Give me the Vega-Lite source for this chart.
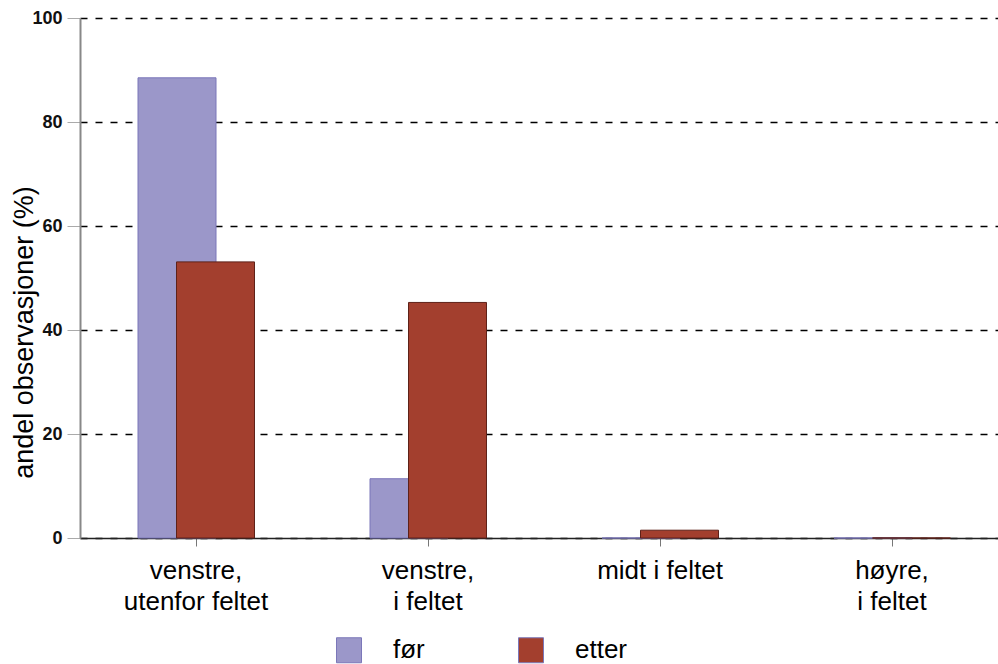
{
  "$schema": "https://vega.github.io/schema/vega-lite/v6.json",
  "autosize": {"type": "none"},
  "padding": {"left": 80, "top": 18, "right": 0, "bottom": 126},
  "width": 928,
  "height": 520,
  "background": "white",
  "config": {
    "font": "Liberation Sans",
    "view": {"stroke": null}
  },
  "data": {
    "values": [
      {"kategori": "venstre, utenfor feltet", "gruppe": "før", "andel": 88.5},
      {"kategori": "venstre, utenfor feltet", "gruppe": "etter", "andel": 53.1},
      {"kategori": "venstre, i feltet", "gruppe": "før", "andel": 11.4},
      {"kategori": "venstre, i feltet", "gruppe": "etter", "andel": 45.3},
      {"kategori": "midt i feltet", "gruppe": "før", "andel": 0},
      {"kategori": "midt i feltet", "gruppe": "etter", "andel": 1.5},
      {"kategori": "høyre, i feltet", "gruppe": "før", "andel": 0},
      {"kategori": "høyre, i feltet", "gruppe": "etter", "andel": 0}
    ]
  },
  "encoding": {
    "x": {
      "field": "kategori",
      "type": "nominal",
      "sort": ["venstre, utenfor feltet", "venstre, i feltet", "midt i feltet", "høyre, i feltet"],
      "scale": {"paddingInner": 0, "paddingOuter": 0},
      "axis": {
        "title": null,
        "labelAngle": 0,
        "labelExpr": "split(replace(datum.label, ', ', ',|'), '|')",
        "labelFontSize": 26,
        "labelColor": "#000000",
        "labelLineHeight": 31,
        "labelPadding": 11,
        "tickSize": 8,
        "tickColor": "#777777",
        "domainColor": "#222222",
        "domainWidth": 1.5,
        "grid": false
      }
    },
    "y": {
      "field": "andel",
      "type": "quantitative",
      "scale": {"domain": [0, 100], "nice": false},
      "axis": {
        "title": "andel observasjoner (%)",
        "titleFontSize": 27,
        "titleFontWeight": "normal",
        "titleColor": "#000000",
        "titleX": -48,
        "titleY": 314,
        "titleAlign": "center",
        "titleBaseline": "alphabetic",
        "titleAngle": -90,
        "values": [0, 20, 40, 60, 80, 100],
        "labelFontSize": 18,
        "labelFontWeight": "bold",
        "labelColor": "#111111",
        "labelPadding": 5,
        "tickSize": 13,
        "tickColor": "#aaaaaa",
        "domainColor": "#888888",
        "domainWidth": 2,
        "grid": true,
        "gridColor": "#000000",
        "gridWidth": 1.6,
        "gridDash": [7, 8]
      }
    },
    "color": {
      "field": "gruppe",
      "type": "nominal",
      "scale": {"domain": ["før", "etter"], "range": ["#9b97c9", "#a33f2e"]},
      "legend": {
        "title": null,
        "orient": "none",
        "legendX": 256,
        "legendY": 619,
        "direction": "horizontal",
        "columns": 2,
        "columnPadding": 91,
        "symbolType": "square",
        "symbolSize": 625,
        "symbolStrokeWidth": 1,
        "symbolOpacity": 1,
        "labelFontSize": 26,
        "labelColor": "#000000",
        "labelOffset": 31
      }
    }
  },
  "layer": [
    {
      "transform": [{"filter": "datum.gruppe === 'før'"}],
      "mark": {"type": "bar", "width": 78, "xOffset": -19, "stroke": "#7b77b9", "strokeWidth": 1, "opacity": 1}
    },
    {
      "transform": [{"filter": "datum.gruppe === 'etter'"}],
      "mark": {"type": "bar", "width": 78, "xOffset": 19.5, "stroke": "#5e2118", "strokeWidth": 1, "opacity": 1}
    }
  ]
}
